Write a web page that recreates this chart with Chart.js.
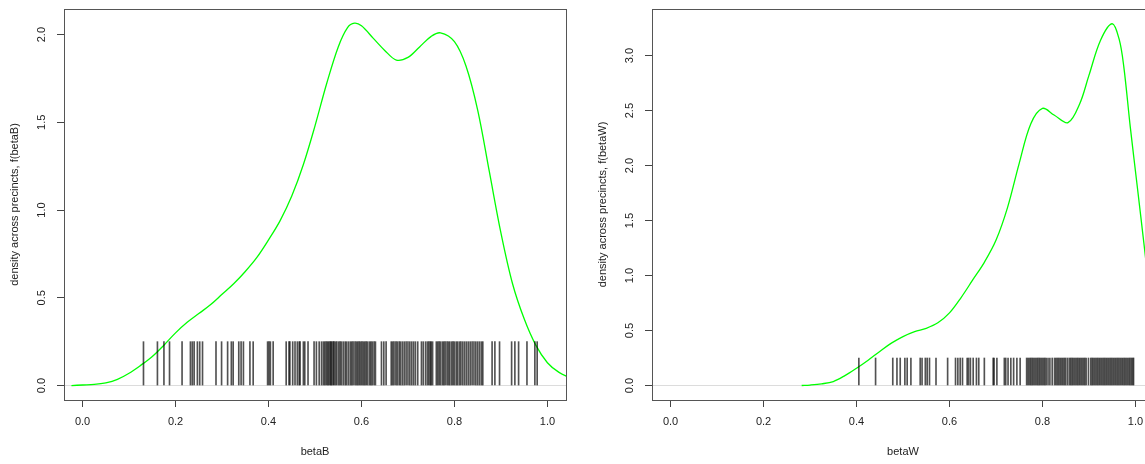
<!DOCTYPE html>
<html lang="en">
<head>
  <meta charset="UTF-8">
  <title>betaB / betaW density</title>
  <script src="https://cdn.jsdelivr.net/npm/chart.js"></script>
  <style>
    html, body { margin: 0; padding: 0; background: #fff; overflow: hidden; width: 1145px; height: 464px; }
    canvas { position: absolute; top: 0; }
    #chartB { left: 0; }
    #chartW { left: 588px; }
  </style>
</head>
<body>
  <canvas id="chartB" width="580" height="464"></canvas>
  <canvas id="chartW" width="580" height="464"></canvas>
  <script>
    // tick labels
    const xTicks = [0, 0.2, 0.4, 0.6, 0.8, 1.0];
    const yTicksB = [0, 0.5, 1.0, 1.5, 2.0];
    const yTicksW = [0, 0.5, 1.0, 1.5, 2.0, 2.5, 3.0];

    // density curve betaB
    const betaBx = [-0.024, 0, 0.025, 0.05, 0.075, 0.1, 0.125, 0.15, 0.175, 0.2, 0.225, 0.25, 0.275, 0.3, 0.325, 0.35, 0.375, 0.4, 0.425, 0.45, 0.475, 0.5, 0.525, 0.55, 0.57, 0.585, 0.6, 0.625, 0.65, 0.675, 0.7, 0.725, 0.75, 0.77, 0.8, 0.825, 0.85, 0.875, 0.9, 0.925, 0.95, 0.975, 1.0, 1.025, 1.06];
    const betaBy = [0, 0.003, 0.006, 0.015, 0.035, 0.07, 0.115, 0.165, 0.23, 0.30, 0.36, 0.41, 0.46, 0.52, 0.58, 0.65, 0.73, 0.83, 0.94, 1.08, 1.26, 1.48, 1.72, 1.93, 2.04, 2.065, 2.05, 1.98, 1.91, 1.855, 1.87, 1.93, 1.99, 2.01, 1.96, 1.82, 1.57, 1.22, 0.87, 0.58, 0.38, 0.23, 0.13, 0.075, 0.03];
    const betaBrug = [0.131, 0.161, 0.175, 0.187, 0.214, 0.232, 0.236, 0.240, 0.247, 0.252, 0.258, 0.287, 0.299, 0.312, 0.320, 0.324, 0.336, 0.341, 0.346, 0.360, 0.367, 0.398, 0.401, 0.404, 0.410, 0.438, 0.444, 0.446, 0.452, 0.457, 0.462, 0.466, 0.468, 0.475, 0.478, 0.485, 0.498, 0.503, 0.509, 0.514,
      0.518, 0.521, 0.524, 0.527, 0.529, 0.532, 0.534, 0.536, 0.539, 0.541, 0.544, 0.547, 0.551, 0.554, 0.557, 0.561, 0.565, 0.568, 0.572, 0.576, 0.579, 0.582, 0.586, 0.589, 0.592, 0.595, 0.598, 0.601, 0.604, 0.607, 0.610, 0.613, 0.617, 0.620, 0.623, 0.627, 0.630,
      0.643, 0.648, 0.653,
      0.664, 0.667, 0.670, 0.674, 0.677, 0.681, 0.684, 0.688, 0.692, 0.696, 0.700, 0.704, 0.708, 0.712, 0.716, 0.721,
      0.729, 0.733, 0.738, 0.742, 0.745, 0.748, 0.750, 0.753,
      0.761, 0.764, 0.767, 0.770, 0.774, 0.777, 0.780, 0.784, 0.787, 0.790, 0.794, 0.797, 0.800, 0.804, 0.807, 0.811, 0.814, 0.818, 0.822, 0.826, 0.830, 0.834, 0.838, 0.842, 0.846, 0.850, 0.854, 0.858, 0.861,
      0.881, 0.887, 0.897, 0.923, 0.930, 0.938, 0.956, 0.973, 0.978];

    // density curve betaW
    const betaWx = [0.282, 0.3, 0.325, 0.35, 0.375, 0.4, 0.425, 0.45, 0.475, 0.5, 0.525, 0.55, 0.575, 0.6, 0.625, 0.65, 0.675, 0.7, 0.725, 0.75, 0.775, 0.8, 0.825, 0.855, 0.88, 0.9, 0.925, 0.95, 0.965, 0.975, 0.989, 1.004, 1.02, 1.03];
    const betaWy = [0, 0.004, 0.015, 0.036, 0.09, 0.157, 0.23, 0.31, 0.385, 0.445, 0.49, 0.52, 0.57, 0.66, 0.80, 0.96, 1.12, 1.32, 1.62, 2.02, 2.38, 2.52, 2.46, 2.39, 2.56, 2.82, 3.14, 3.29, 3.15, 2.90, 2.35, 1.81, 1.23, 0.85];
    const betaWrug = [0.405, 0.441, 0.478, 0.487, 0.494, 0.504, 0.509, 0.517, 0.537, 0.541, 0.548, 0.552, 0.557, 0.571, 0.596, 0.613, 0.618, 0.623, 0.628, 0.638, 0.641, 0.645, 0.651, 0.658, 0.663, 0.675, 0.694, 0.696, 0.702, 0.718, 0.721, 0.726, 0.732, 0.738, 0.745, 0.752,
      0.766, 0.769, 0.772, 0.775, 0.778, 0.781, 0.784, 0.787, 0.790, 0.793, 0.796, 0.799, 0.802, 0.805, 0.808, 0.812, 0.816, 0.821, 0.826, 0.829, 0.832, 0.835, 0.838, 0.841, 0.844, 0.847, 0.850, 0.854, 0.858, 0.861, 0.864, 0.867, 0.870, 0.873, 0.876, 0.879, 0.882, 0.885, 0.888, 0.891, 0.894,
      0.899, 0.904, 0.907, 0.910, 0.913, 0.916, 0.919, 0.922, 0.925, 0.928, 0.931, 0.934, 0.937, 0.940, 0.943, 0.946, 0.949, 0.952, 0.955, 0.958, 0.961, 0.964, 0.967, 0.970, 0.973, 0.976, 0.979, 0.982, 0.985, 0.988, 0.991, 0.994, 0.996];

    const rugTop = 0.25;
    const font = { family: "'Liberation Sans', Arial, sans-serif", size: 11 };
    const textColor = '#222';

    // box round the plot area, like R's box()
    const boxPlugin = {
      id: 'box',
      afterDatasetsDraw(chart) {
        const a = chart.chartArea, c = chart.ctx;
        c.save();
        c.strokeStyle = '#555';
        c.lineWidth = 1;
        c.strokeRect(Math.round(a.left) + 0.5, Math.round(a.top) + 0.5, Math.round(a.right - a.left), Math.round(a.bottom - a.top));
        c.restore();
      }
    };

    function densityChart(id, xs, ys, rug, yTicks, yMin, yMax, xTitle, yTitle) {
      return new Chart(document.getElementById(id), {
        data: {
          datasets: [
            {
              type: 'line',
              data: xs.map((x, i) => ({ x: x, y: ys[i] })),
              borderColor: '#00ff00',
              borderWidth: 1.3,
              pointRadius: 0,
              tension: 0.35,
              order: 2
            },
            {
              type: 'bar',
              data: rug.map(x => ({ x: x, y: [0, rugTop] })),
              backgroundColor: 'rgba(0,0,0,0.68)',
              borderWidth: 0,
              barThickness: 1,
              grouped: false,
              order: 1
            }
          ]
        },
        options: {
          responsive: false,
          animation: false,
          events: [],
          layout: { padding: { top: 9, right: 14, left: 0, bottom: 0 } },
          plugins: { legend: { display: false }, tooltip: { enabled: false } },
          scales: {
            x: {
              type: 'linear',
              min: -0.04, max: 1.04,
              offset: false,
              afterBuildTicks: s => { s.ticks = xTicks.map(v => ({ value: v })); },
              afterFit: s => { s.height = 64; s.paddingLeft = 0; s.paddingRight = 0; },
              grid: { offset: false, drawOnChartArea: false, tickLength: 7, tickColor: '#444', tickWidth: 1 },
              border: { display: false },
              ticks: { padding: 8, autoSkip: false, maxRotation: 0, font: font, color: textColor, callback: v => v.toFixed(1) },
              title: { display: true, text: xTitle, font: font, color: textColor, padding: { top: 0, bottom: 5 } }
            },
            y: {
              type: 'linear',
              min: yMin, max: yMax,
              afterBuildTicks: s => { s.ticks = yTicks.map(v => ({ value: v })); },
              afterFit: s => { s.width = 64; s.paddingTop = 0; s.paddingBottom = 0; },
              grid: {
                color: c => (c.tick && c.tick.value === 0) ? '#dcdcdc' : 'rgba(0,0,0,0)',
                tickColor: '#444', tickLength: 7, tickWidth: 1
              },
              border: { display: false },
              ticks: { padding: 7, minRotation: 90, maxRotation: 90, crossAlign: 'center', font: font, color: textColor, callback: v => v.toFixed(1) },
              title: { display: true, text: yTitle, font: font, color: textColor, padding: { top: 8, bottom: 0 } }
            }
          }
        },
        plugins: [boxPlugin]
      });
    }

    densityChart('chartB', betaBx, betaBy, betaBrug, yTicksB, -0.0825, 2.146, 'betaB', 'density across precincts, f(betaB)');
    densityChart('chartW', betaWx, betaWy, betaWrug, yTicksW, -0.132, 3.424, 'betaW', 'density across precincts, f(betaW)');
  </script>
</body>
</html>
